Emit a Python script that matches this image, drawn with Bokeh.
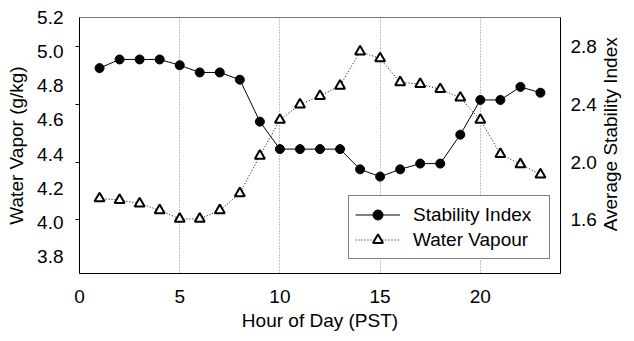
import math
from bokeh.plotting import figure
from bokeh.models import (Range1d, LinearAxis, FixedTicker, PrintfTickFormatter,
                          Legend, LegendItem)
from bokeh.embed import file_html
from bokeh.resources import INLINE

# Hourly means (PST)
hours = list(range(1, 24))
stability_index = [2.65, 2.71, 2.71, 2.71, 2.67, 2.62, 2.62, 2.57, 2.28, 2.09,
                   2.09, 2.09, 2.09, 1.95, 1.90, 1.95, 1.99, 1.99, 2.19, 2.43,
                   2.43, 2.52, 2.48]
water_vapour = [4.14, 4.13, 4.11, 4.07, 4.02, 4.02, 4.07, 4.17, 4.39, 4.60,
                4.69, 4.74, 4.80, 5.00, 4.96, 4.82, 4.81, 4.78, 4.73, 4.60,
                4.40, 4.34, 4.28]

hour_ticks = [0, 5, 10, 15, 20]
grid_hours = [5, 10, 15, 20]
vapour_ticks = [3.8, 4.0, 4.2, 4.4, 4.6, 4.8, 5.0, 5.2]
stability_ticks = [1.6, 2.0, 2.4, 2.8]

FONT = "Liberation Sans"
FS = "19px"

stab_lo, stab_hi = 1.23, 3.0
vap_lo, vap_hi = 3.7, 5.2

p = figure(width=634, height=341, output_backend="svg", toolbar_location=None,
           x_range=Range1d(0, 24), y_range=Range1d(stab_lo, stab_hi),
           y_axis_location=None,
           min_border_left=79, min_border_right=71,
           min_border_top=17, min_border_bottom=68)
p.extra_y_ranges = {"vapour": Range1d(vap_lo, vap_hi)}
p.background_fill_color = "white"
p.border_fill_color = "white"
p.outline_line_color = "#7a7a7a"
p.ygrid.visible = False

# vertical dotted guides
p.xgrid.ticker = FixedTicker(ticks=grid_hours)
p.xgrid.grid_line_color = "#808080"
p.xgrid.grid_line_dash = "1 2"
p.xgrid.grid_line_width = 1

# bottom axis
xa = p.xaxis[0]
xa.ticker = FixedTicker(ticks=hour_ticks)
xa.major_tick_out = 0
xa.major_tick_in = 0
xa.minor_tick_out = 0
xa.minor_tick_in = 0
xa.axis_line_color = "black"
xa.major_label_standoff = 16
xa.major_label_text_font = FONT
xa.major_label_text_font_size = FS
xa.major_label_text_color = "black"
xa.axis_label = "Hour of Day (PST)"
xa.axis_label_text_font = FONT
xa.axis_label_text_font_size = FS
xa.axis_label_text_font_style = "normal"
xa.axis_label_text_color = "black"
xa.axis_label_standoff = 4

# the left spine carries short marks at the stability levels
# (expressed in the vapour range as unlabelled minor ticks)
spine_marks = [vap_lo + (s - stab_lo) * (vap_hi - vap_lo) / (stab_hi - stab_lo)
               for s in stability_ticks]

vap_axis = LinearAxis(y_range_name="vapour",
                      ticker=FixedTicker(ticks=vapour_ticks, minor_ticks=spine_marks),
                      formatter=PrintfTickFormatter(format="%.1f"),
                      major_tick_out=0, major_tick_in=0,
                      minor_tick_out=4, minor_tick_in=0,
                      minor_tick_line_color="black",
                      axis_line_color="black",
                      major_label_standoff=12,
                      major_label_text_font=FONT,
                      major_label_text_font_size=FS,
                      major_label_text_color="black",
                      axis_label="Water Vapor (g/kg)",
                      axis_label_text_font=FONT,
                      axis_label_text_font_size=FS,
                      axis_label_text_font_style="normal",
                      axis_label_text_color="black",
                      axis_label_standoff=7)
p.add_layout(vap_axis, "left")

# stability index labels on the right; its title reads upward,
# starting a little above the bottom of the frame
stab_axis = LinearAxis(ticker=FixedTicker(ticks=stability_ticks),
                       formatter=PrintfTickFormatter(format="%.1f"),
                       major_tick_out=0, major_tick_in=0,
                       minor_tick_out=0, minor_tick_in=0,
                       axis_line_color="black",
                       major_label_standoff=10,
                       major_label_text_font=FONT,
                       major_label_text_font_size=FS,
                       major_label_text_color="black",
                       axis_label="\u00a0" * 8 + "Average Stability Index",
                       axis_label_text_font=FONT,
                       axis_label_text_font_size=FS,
                       axis_label_text_font_style="normal",
                       axis_label_text_color="black",
                       axis_label_standoff=11,
                       axis_label_align="start")
stab_axis.axis_label_orientation = math.pi / 2
p.add_layout(stab_axis, "right")

# series
sl = p.line(hours, stability_index, line_color="black", line_width=1)
sc = p.scatter(hours, stability_index, marker="circle", size=9,
               fill_color="black", line_color="black")
vl = p.line(hours, water_vapour, y_range_name="vapour", line_color="black",
            line_width=1, line_dash="1 2")
vc = p.scatter(hours, water_vapour, y_range_name="vapour", marker="triangle",
               size=10, fill_color="white", line_color="black", line_width=2)

legend = Legend(items=[LegendItem(label="Stability Index", renderers=[sl, sc]),
                       LegendItem(label="Water Vapour", renderers=[vl, vc])],
                location=(269, 14), orientation="vertical",
                border_line_color="black", border_line_width=1,
                background_fill_color="white", background_fill_alpha=1,
                padding=6, spacing=0, margin=0,
                glyph_width=45, glyph_height=25,
                label_height=25, label_width=130, label_standoff=13,
                label_text_font=FONT, label_text_font_size=FS,
                label_text_color="black")
p.add_layout(legend)

open("out.html", "w").write(file_html(p, INLINE))
